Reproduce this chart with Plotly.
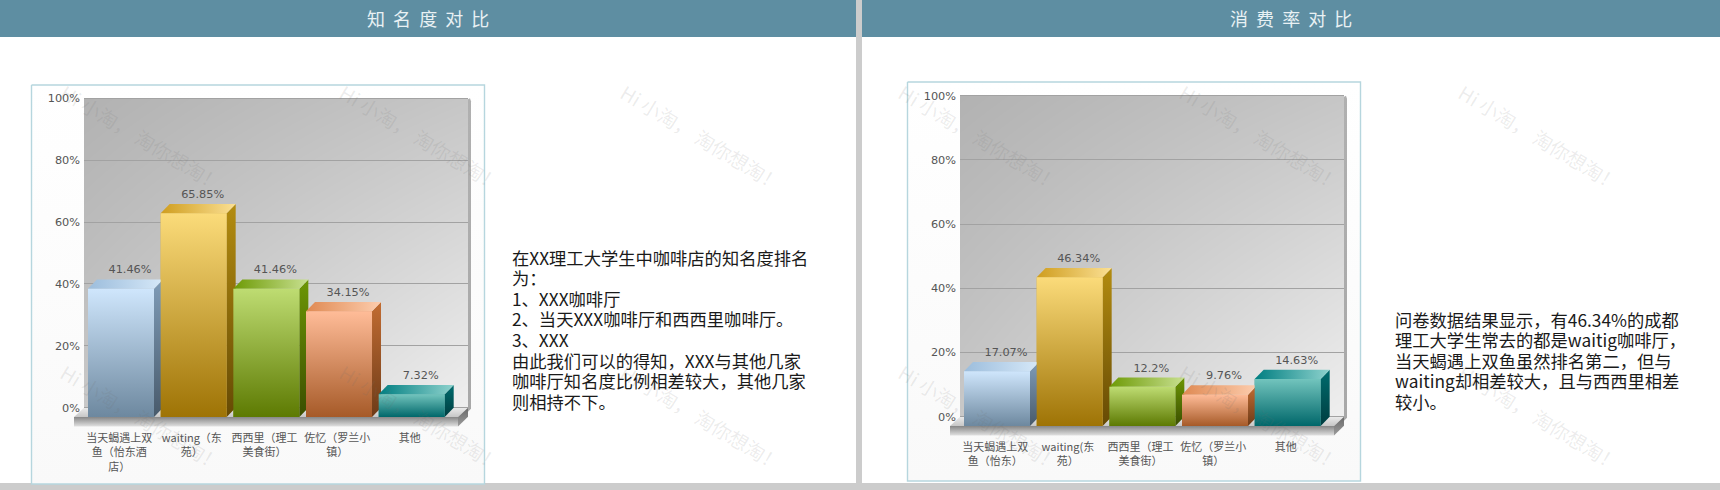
import plotly.graph_objects as go

W, H = 1720, 490

# ---------- data ----------
labels_a = ["当天蝎遇上双<br>鱼（怡东酒<br>店）", "waiting（东<br>苑）", "西西里（理工<br>美食街）", "佐忆（罗兰小<br>镇）", "其他"]
values_a = [41.46, 65.85, 41.46, 34.15, 7.32]
text_a = ["41.46%", "65.85%", "41.46%", "34.15%", "7.32%"]

labels_b = ["当天蝎遇上双<br>鱼（怡东）", "waiting(东<br>苑）", "西西里（理工<br>美食街）", "佐忆（罗兰小<br>镇）", "其他"]
values_b = [17.07, 46.34, 12.2, 9.76, 14.63]
text_b = ["17.07%", "46.34%", "12.2%", "9.76%", "14.63%"]

y_ticks = [0, 20, 40, 60, 80, 100]
y_tick_labels = ["0%", "20%", "40%", "60%", "80%", "100%"]

title_a = "知  名  度  对  比"
title_b = "消  费  率  对  比"
para_a = ["在XX理工大学生中咖啡店的知名度排名", "为：", "1、XXX咖啡厅", "2、当天XXX咖啡厅和西西里咖啡厅。", "3、XXX",
          "由此我们可以的得知，XXX与其他几家", "咖啡厅知名度比例相差较大，其他几家", "则相持不下。"]
para_b = ["问卷数据结果显示，有46.34%的成都", "理工大学生常去的都是waitig咖啡厅，", "当天蝎遇上双鱼虽然排名第二，但与",
          "waiting却相差较大，且与西西里相差", "较小。"]
watermark = "Hi 小淘， 淘你想淘！"

# ---------- styles: (front top, front bottom, side top, side bottom, top-face left, top-face right, solid) ----------
palette = [
    ("#cfe6fc", "#6d889f", "#7f9cb8", "#485a6b", "#9cbddc", "#d6e8f8", "#9db8d2"),
    ("#fbdb7a", "#9e7305", "#b38c10", "#664a04", "#cf9d1e", "#fbe094", "#cda63e"),
    ("#bedc72", "#5d7a02", "#6c9605", "#3b4e00", "#6d9a05", "#c8e090", "#8dab3a"),
    ("#ffbc98", "#a65a28", "#c26c32", "#6d3b18", "#df8952", "#fdcdae", "#d38b60"),
    ("#72c4bd", "#00676a", "#006c6e", "#003d40", "#007e81", "#8ed2cd", "#389594"),
]
FONT_CJK = "Noto Sans CJK SC"
FONT_AX = "DejaVu Sans"
DX, DY = 9.0, 9.3
PITCH, BAR_W = 72.67, 66.0
FRAME_A = (31.5, 85, 484.5, 484)
FRAME_B = (907.5, 82, 1360.5, 481)
GEOM_A = dict(wall_left=84, y100=98.3, y0=407.7, base=417.0, first_x=121.0)
GEOM_B = dict(wall_left=960, y100=95.7, y0=416.7, base=426.0, first_x=997.0)

fig = go.Figure()


def poly(xs, ys, c0, c1, kind, xa, ya, line=None):
    """Closed polygon with a linear gradient c0 (low axis value) to c1 (high axis value)."""
    fig.add_trace(go.Scatter(
        x=list(xs) + [xs[0]], y=list(ys) + [ys[0]], xaxis=xa, yaxis=ya, mode="lines",
        line=dict(width=line[1], color=line[0]) if line else dict(width=0),
        fill="toself", hoverinfo="skip", showlegend=False, fillcolor=c0,
        fillgradient=dict(type=kind, colorscale=[[0, c0], [1, c1]]),
    ))


def frame(box):
    fx0, fy0, fx1, fy1 = box
    poly([fx0, fx1, fx1, fx0], [fy0, fy0, fy1, fy1], "#f9f9f9", "#ffffff", "vertical", "x", "y", line=("#b6d6de", 1.4))


def wall(xa, ya):
    fig.add_trace(go.Heatmap(x=[0, 1], y=[0, 1], z=[[0.36, 1], [0, 0.33]], xaxis=xa, yaxis=ya,
                             zsmooth="best", showscale=False, hoverinfo="skip",
                             zmin=0, zmax=1, colorscale=[[0, "#b2b2b2"], [1, "#efefef"]]))


def floor(wall_left, y100, y0, base, first_x):
    wr = wall_left + 384
    poly([wr, wr + 2, wr + 3, wr + 3, wr], [y100 + 1, y100, y100 + 3, y0 + 1, y0 + 4],
         "#a8a8a8", "#b0b0b0", "vertical", "x4", "y4")
    fl, fr = wall_left - 10, wr - 10
    poly([fl, wall_left, wr, fr], [base, y0, y0, base], "#c6c6c6", "#ebebeb", "vertical", "x4", "y4")
    poly([fl, fr, fr, fl], [base, base, base + 9.6, base + 9.6], "#e2e2e2", "#868686", "vertical", "x4", "y4")
    poly([fr, wr, wr, fr], [base, y0, y0 + 9, base + 9.6], "#9c9c9c", "#6a6a6a", "vertical", "x4", "y4")


def bars(xa, ya, values, texts, scale):
    xs = list(range(len(values)))
    dx, dy, bw = DX / PITCH, DY / scale, BAR_W / PITCH
    fig.add_trace(go.Bar(x=xs, y=values, width=bw, xaxis=xa, yaxis=ya, showlegend=False, hoverinfo="y",
                         marker=dict(color=[p[6] for p in palette], line=dict(width=0))))
    for i, v in enumerate(values):
        p = palette[i]
        a, b = i - bw / 2, i + bw / 2
        poly([b, b + dx, b + dx, b], [0, dy, v + dy, v], p[3], p[2], "vertical", xa, ya)
        poly([a, b, b + dx, a + dx], [v, v, v + dy, v + dy], p[4], p[5], "horizontal", xa, ya)
        poly([a, b, b, a], [0, 0, v, v], p[1], p[0], "vertical", xa, ya)
    fig.add_trace(go.Scatter(x=[i + dx for i in xs], y=[v + dy + 1.0 for v in values], text=texts, mode="text",
                             textposition="top center", xaxis=xa, yaxis=ya, hoverinfo="skip", showlegend=False,
                             textfont=dict(family=FONT_AX, size=11.3, color="#555555")))


def dom_x(p0, p1):
    return [p0 / W, p1 / W]


def dom_y(p_top, p_bot):
    return [1 - p_bot / H, 1 - p_top / H]


pixel_ax = lambda: (dict(domain=[0, 1], range=[0, W], visible=False, fixedrange=True),
                    dict(domain=[0, 1], range=[H, 0], visible=False, fixedrange=True))

layout = dict(
    width=W, height=H, margin=dict(l=0, r=0, t=0, b=0, pad=0), autosize=False,
    paper_bgcolor="#cccccc", plot_bgcolor="rgba(0,0,0,0)", barmode="overlay", showlegend=False,
)
layout["xaxis"], layout["yaxis"] = pixel_ax()
layout["xaxis4"], layout["yaxis4"] = pixel_ax()


def wall_axes(n, wall_left, y100, y0, base, first_x):
    layout["xaxis" + n] = dict(domain=dom_x(wall_left, wall_left + 384), range=[0, 1], visible=False, fixedrange=True,
                               anchor="y" + n)
    layout["yaxis" + n] = dict(domain=dom_y(y100, y0 + 1), range=[0, 1], visible=False, fixedrange=True,
                               anchor="x" + n)


def chart_axes(n, ticks, wall_left, y100, y0, base, first_x):
    scale = (y0 - y100) / 100.0
    dom_top, dom_bot = y100 - 8, base + 13
    layout["xaxis" + n] = dict(
        domain=dom_x(wall_left, wall_left + 384),
        range=[(wall_left - first_x) / PITCH, (wall_left + 384 - first_x) / PITCH],
        anchor="y" + n, tickmode="array", tickvals=[i - 0.025 for i in range(5)], ticktext=ticks,
        showgrid=False, zeroline=False, showline=False, ticks="", ticklen=0, fixedrange=True,
        tickfont=dict(family=FONT_CJK, size=11, color="#555555"), tickangle=0, automargin=False,
    )
    # values are read at the front plane; the ticks and grid sit on the back wall
    shift = (base - y0) / scale
    layout["yaxis" + n] = dict(
        domain=dom_y(dom_top, dom_bot), range=[(base - dom_bot) / scale, (base - dom_top) / scale], anchor="x" + n,
        tickmode="array", tickvals=[v + shift for v in y_ticks], ticktext=y_tick_labels, ticklabelstandoff=3,
        showgrid=True, gridcolor="#a2a2a2", gridwidth=1, zeroline=False, showline=False, ticks="", fixedrange=True,
        tickfont=dict(family=FONT_AX, size=11.3, color="#555555"), automargin=False,
    )
    return scale


def px_rect(x0, y0, x1, y1, color):
    return dict(type="rect", xref="paper", yref="paper", x0=x0 / W, x1=x1 / W, y0=1 - y0 / H, y1=1 - y1 / H,
                fillcolor=color, line=dict(width=0), layer="below")


layout["shapes"] = [
    px_rect(0, 0, 856, 483, "#ffffff"), px_rect(862, 0, W, 483, "#ffffff"),
    px_rect(0, 0, 856, 37, "#5e8ea2"), px_rect(862, 0, W, 37, "#5e8ea2"),
]

wall_axes("2", **GEOM_A)
wall_axes("3", **GEOM_B)
scale_a = chart_axes("5", labels_a, **GEOM_A)
scale_b = chart_axes("6", labels_b, **GEOM_B)

# draw order follows subplot number
frame(FRAME_A)
frame(FRAME_B)
wall("x2", "y2")
wall("x3", "y3")
floor(**GEOM_A)
floor(**GEOM_B)
bars("x5", "y5", values_a, text_a, scale_a)
bars("x6", "y6", values_b, text_b, scale_b)

# ---------- texts ----------
ann = []


def px_text(x, y, t, size, color, anchor="left", angle=0, family=FONT_CJK):
    ann.append(dict(xref="paper", yref="paper", x=x / W, y=1 - y / H, text=t, showarrow=False, xanchor=anchor,
                    yanchor="middle", textangle=angle, align=anchor,
                    font=dict(family=family, size=size, color=color)))


px_text(428, 18, title_a, 18, "#e9f1f4", "center")
px_text(1291, 18, title_b, 18, "#e9f1f4", "center")

for i, t in enumerate(para_a):
    px_text(510, 257 + i * 20.6, t, 17.3, "#1a1a1a")
for i, t in enumerate(para_b):
    px_text(1393, 319 + i * 20.6, t, 17.3, "#1a1a1a")

for cx in (142, 421, 702, 980, 1261, 1540):
    for cy in (137, 417):
        px_text(cx, cy, watermark, 19.5, "rgba(110,110,110,0.13)", "center", 31)

layout["annotations"] = ann
fig.update_layout(**layout)

fig.write_html("out.html", config={"displayModeBar": False},
               post_script="document.body.style.margin='0';document.body.style.overflow='hidden';")
